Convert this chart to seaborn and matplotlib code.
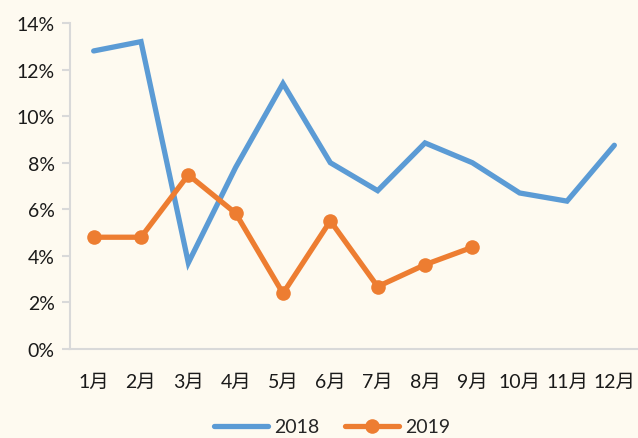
import matplotlib
matplotlib.use("Agg")
import matplotlib.pyplot as plt
import seaborn as sns
import pandas as pd
import numpy as np
from matplotlib.ticker import PercentFormatter

months = ["1月", "2月", "3月", "4月", "5月", "6月", "7月", "8月", "9月", "10月", "11月", "12月"]
values_2018 = [12.8, 13.2, 3.7, 7.8, 11.4, 8.0, 6.8, 8.85, 8.0, 6.7, 6.35, 8.75]
values_2019 = [4.8, 4.8, 7.48, 5.83, 2.39, 5.5, 2.68, 3.62, 4.37]
y_ticks = [0, 2, 4, 6, 8, 10, 12, 14]

sns.set_theme(style="white")
plt.rcParams['font.family'] = ['Lato', 'Noto Sans CJK SC', 'DejaVu Sans']

bg = "#FEFAF0"
blue = "#5B9BD5"
orange = "#ED7D31"

df18 = pd.DataFrame({"x": np.arange(len(values_2018)), "v": values_2018})
df19 = pd.DataFrame({"x": np.arange(len(values_2019)), "v": values_2019})

fig = plt.figure(figsize=(6.38, 4.39), dpi=100, facecolor=bg)
ax = fig.add_axes([70/638, 1-350/439, 568/638, 326/439])
ax.set_facecolor(bg)

sns.lineplot(data=df18, x="x", y="v", ax=ax, color=blue, linewidth=3.8, label="2018",
             solid_capstyle="round", solid_joinstyle="miter")
sns.lineplot(data=df19, x="x", y="v", ax=ax, color=orange, linewidth=3.8, marker="o",
             markersize=10.5, markeredgewidth=0, label="2019", solid_joinstyle="miter")

ax.set_xlim(-0.5, 11.5)
ax.set_ylim(0, 14)
ax.set_yticks(y_ticks)
ax.yaxis.set_major_formatter(PercentFormatter(decimals=0))
ax.set_xticks(range(len(months)))
ax.set_xticklabels(months)
ax.set_xlabel("")
ax.set_ylabel("")

for s in ["top", "right"]:
    ax.spines[s].set_visible(False)
for s in ["left", "bottom"]:
    ax.spines[s].set_color("#D9D9D9")
    ax.spines[s].set_linewidth(1.5)

ax.tick_params(axis="y", which="major", left=True, length=6, width=1.5, color="#D9D9D9",
               labelsize=14, labelcolor="#1a1a1a", pad=5)
ax.tick_params(axis="x", which="major", bottom=False, labelsize=14, labelcolor="#1a1a1a", pad=11)

leg = ax.legend(loc="center", bbox_to_anchor=(0.461, -0.239), ncol=2, frameon=False,
                fontsize=14, handlelength=2.8, columnspacing=1.3, handletextpad=0.3)

fig.savefig("out.png", dpi=100, facecolor=bg)
